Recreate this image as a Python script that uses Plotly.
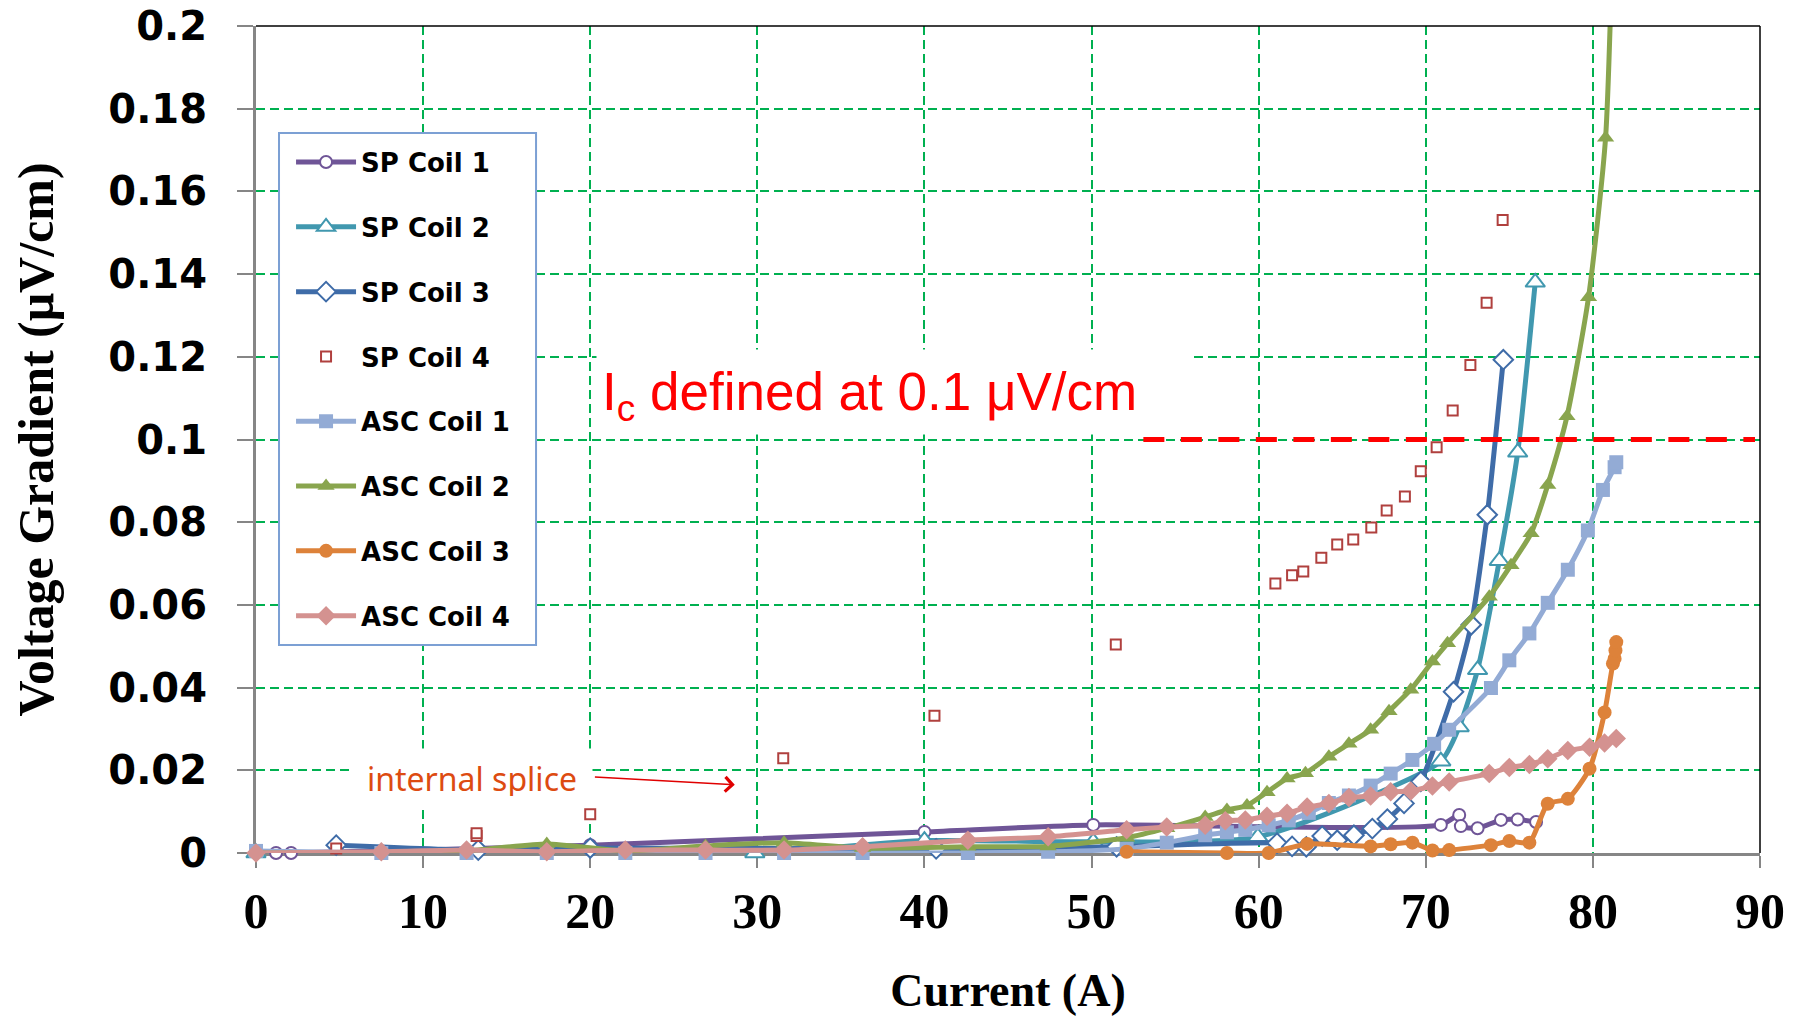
import plotly.graph_objects as go

# ---------------- data ----------------
sp1_x = [1.2, 2.1, 20.0, 40.0, 50.1, 70.9, 72.0, 72.1, 73.1, 74.5, 75.5, 76.6]
sp1_y = [0.0, 0.0, 0.0019, 0.0051, 0.0068, 0.0068, 0.0092, 0.0065, 0.0060, 0.0080, 0.0081, 0.0075]

sp2_x = [0.0, 29.85, 40.0, 50.1, 59.95, 70.9, 72.0, 73.1, 74.4, 75.5, 76.55]
sp2_y = [0.0, 0.0, 0.003, 0.0027, 0.0039, 0.0222, 0.0305, 0.0443, 0.0707, 0.0969, 0.138]

sp3_x = [4.8, 13.3, 20.0, 40.7, 51.5, 61.1, 62.0, 62.85, 63.8, 64.7, 65.7, 66.8, 67.7,
         68.7, 69.7, 71.66, 72.72, 73.68, 74.64]
sp3_y = [0.0019, 0.0007, 0.0012, 0.001, 0.0015, 0.0024, 0.0016, 0.0015, 0.0041, 0.0031,
         0.0043, 0.0059, 0.0082, 0.012, 0.0173, 0.039, 0.0552, 0.0818, 0.1193]

sp4_x = [4.8, 13.2, 13.2, 20.0, 31.55, 40.6, 51.45, 61.0, 62.0, 62.67, 63.75, 64.7, 65.66,
         66.74, 67.66, 68.75, 69.7, 70.65, 71.61, 72.67, 73.64, 74.6]
sp4_y = [0.0011, 0.0041, 0.0048, 0.0094, 0.0229, 0.0332, 0.0504, 0.0652, 0.0672, 0.0681,
         0.0714, 0.0746, 0.0758, 0.0787, 0.0828, 0.0862, 0.0923, 0.0981, 0.107, 0.118,
         0.1331, 0.1531]

asc1_x = [0, 7.5, 12.6, 17.4, 22.1, 26.9, 31.6, 36.3, 42.6, 47.4, 52.1, 54.5, 56.8, 58.1,
          59.2, 60.6, 61.8, 63.0, 64.2, 65.4, 66.7, 67.9, 69.2, 70.5, 71.4, 73.9, 75.0,
          76.2, 77.3, 78.5, 79.7, 80.6, 81.3, 81.4]
asc1_y = [0.0005, 0, 0, 0, 0, 0, 0, 0, 0, 0.0003, 0.001, 0.0025, 0.0043, 0.005, 0.0056,
          0.0067, 0.0079, 0.0097, 0.0121, 0.0139, 0.0163, 0.0192, 0.0225, 0.0264, 0.0298,
          0.0399, 0.0466, 0.0531, 0.0605, 0.0685, 0.078, 0.0878, 0.0933, 0.0945]

asc2_x = [0, 7.5, 12.6, 17.4, 22.1, 26.9, 31.6, 36.3, 42.6, 47.4, 52.1, 54.5, 56.8, 58.1,
          59.3, 60.5, 61.7, 62.8, 64.2, 65.4, 66.7, 67.8, 69.1, 70.4, 71.3, 73.8, 75.1,
          76.3, 77.3, 78.45, 79.74, 80.76, 81.3]
asc2_y = [0, 0, 0.0005, 0.0022, 0.0005, 0.0017, 0.0025, 0.0012, 0.0015, 0.0016, 0.0037,
          0.006, 0.0087, 0.0104, 0.0115, 0.0147, 0.018, 0.0193, 0.0233, 0.0264, 0.0298,
          0.0343, 0.0395, 0.0463, 0.0507, 0.062, 0.0696, 0.0773, 0.089, 0.1056, 0.1344,
          0.173, 0.24]

asc3_x = [52.1, 58.1, 60.6, 62.9, 66.7, 67.9, 69.2, 70.4, 71.4, 73.9, 75.0, 76.2, 77.3,
          78.5, 79.8, 80.7, 81.2, 81.3, 81.35, 81.4]
asc3_y = [0.0003, 0, 0, 0.0022, 0.0016, 0.0021, 0.0025, 0.0006, 0.0007, 0.0019, 0.0029,
          0.0025, 0.0119, 0.0131, 0.0204, 0.034, 0.0458, 0.047, 0.049, 0.051]

asc4_x = [0, 7.5, 12.6, 17.4, 22.1, 26.9, 31.6, 36.3, 42.6, 47.4, 52.1, 54.5, 56.8, 58.0,
          59.2, 60.5, 61.7, 62.9, 64.2, 65.4, 66.7, 67.9, 69.1, 70.4, 71.4, 73.8, 75.0,
          76.2, 77.3, 78.5, 79.8, 80.7, 81.4]
asc4_y = [0, 0.0003, 0.0007, 0.0003, 0.0007, 0.0007, 0.0007, 0.0015, 0.0031, 0.0039,
          0.0056, 0.0063, 0.0067, 0.0078, 0.008, 0.0089, 0.0096, 0.0111, 0.012, 0.0134,
          0.0138, 0.0148, 0.015, 0.0162, 0.0172, 0.0192, 0.0207, 0.0214, 0.0228, 0.0248,
          0.0256, 0.0266, 0.0277]

series_names = ["SP Coil 1", "SP Coil 2", "SP Coil 3", "SP Coil 4",
                "ASC Coil 1", "ASC Coil 2", "ASC Coil 3", "ASC Coil 4"]

x_ticks = [0, 10, 20, 30, 40, 50, 60, 70, 80, 90]
y_ticks = [0, 0.02, 0.04, 0.06, 0.08, 0.1, 0.12, 0.14, 0.16, 0.18, 0.2]
y_tick_labels = ["0", "0.02", "0.04", "0.06", "0.08", "0.1", "0.12", "0.14", "0.16", "0.18", "0.2"]

ic_level = 0.1
ic_line_x = [53.1, 89.7]

# ---------------- styles ----------------
series = [
    (sp1_x, sp1_y, dict(color="#6F5597", symbol="circle", size=12, open=True, mode="lines+markers")),
    (sp2_x, sp2_y, dict(color="#4198AF", symbol="triangle-up", size=17, open=True, mode="lines+markers")),
    (sp3_x, sp3_y, dict(color="#3F6CA8", symbol="diamond", size=15, open=True, mode="lines+markers")),
    (sp4_x, sp4_y, dict(color="#B0403E", symbol="square", size=10, open=True, mode="markers")),
    (asc1_x, asc1_y, dict(color="#93ABD5", symbol="square", size=14, open=False, mode="lines+markers")),
    (asc2_x, asc2_y, dict(color="#89A54E", symbol="triangle-up", size=15, open=False, mode="lines+markers")),
    (asc3_x, asc3_y, dict(color="#DD823A", symbol="circle", size=14, open=False, mode="lines+markers")),
    (asc4_x, asc4_y, dict(color="#D49290", symbol="diamond", size=15, open=False, mode="lines+markers")),
]

fig = go.Figure()
for name, (xs, ys, st) in zip(series_names, series):
    if st["open"]:
        marker = dict(symbol=st["symbol"], size=st["size"], color="white",
                      line=dict(color=st["color"], width=2))
    else:
        marker = dict(symbol=st["symbol"], size=st["size"], color=st["color"],
                      line=dict(color=st["color"], width=0))
    fig.add_trace(go.Scatter(
        x=xs, y=ys, name=name, mode=st["mode"],
        line=dict(color=st["color"], width=5, shape="spline", smoothing=0.6),
        marker=marker, legendgroup=name,
        cliponaxis=(name == "ASC Coil 2"),
    ))

# Ic threshold line
fig.add_trace(go.Scatter(
    x=ic_line_x, y=[ic_level, ic_level], mode="lines", showlegend=False,
    line=dict(color="#FF0000", width=5, dash="21px,16.5px"), hoverinfo="skip",
))

serif = "Liberation Serif, Times New Roman, serif"
sans_bold = "DejaVu Sans, Verdana, sans-serif"

fig.update_layout(
    width=1807, height=1024,
    margin=dict(l=248, r=55, t=18, b=179),
    paper_bgcolor="white", plot_bgcolor="white",
    showlegend=True,
    legend=dict(
        x=0.0233, y=0.8638, xanchor="left", yanchor="top",
        bgcolor="rgba(0,0,0,0)", borderwidth=0,
        font=dict(family=sans_bold, size=26, color="black", weight="bold"),
        tracegroupgap=28, itemwidth=60,
    ),
    xaxis=dict(
        range=[0, 90], tickvals=x_ticks, ticktext=[str(v) for v in x_ticks],
        showline=True, linecolor="#868686", linewidth=3,
        ticks="outside", ticklen=12, tickwidth=2, tickcolor="#868686",
        showgrid=True, gridcolor="#00B050", gridwidth=2, griddash="9px,5px",
        zeroline=False, layer="below traces",
        tickfont=dict(family=serif, size=50, color="black", weight="bold"),
        ticklabelstandoff=0, ticklabeloverflow="allow",
        title=dict(text="Current (A)", standoff=36,
                   font=dict(family=serif, size=46, color="black", weight="bold")),
        automargin=False,
    ),
    yaxis=dict(
        range=[0, 0.2], tickvals=y_ticks, ticktext=y_tick_labels,
        showline=True, linecolor="#868686", linewidth=3,
        ticks="outside", ticklen=16, tickwidth=2, tickcolor="#868686",
        showgrid=True, gridcolor="#00B050", gridwidth=2, griddash="9px,5px",
        zeroline=False, layer="below traces",
        tickfont=dict(family=sans_bold, size=40, color="black", weight="bold"),
        ticklabelstandoff=22, ticklabeloverflow="allow",
        title=dict(text="Voltage Gradient (\u03bcV/cm)", standoff=52,
                   font=dict(family=serif, size=50, color="black", weight="bold")),
        automargin=False,
    ),
    shapes=[
        # legend box
        dict(type="rect", xref="paper", yref="paper", x0=0.0153, x1=0.1862, y0=0.2515, y1=0.8706,
             fillcolor="white", line=dict(color="#7CA0D4", width=2), layer="above"),
        dict(type="line", xref="paper", yref="paper", x0=0, x1=1, y0=1, y1=1,
             line=dict(color="black", width=1.5), layer="above"),
        dict(type="line", xref="paper", yref="paper", x0=1, x1=1, y0=0, y1=1,
             line=dict(color="black", width=1.5), layer="above"),
    ],
    annotations=[
        dict(x=38.2, y=0.1116, xref="x", yref="y",
             text="I<sub>c</sub> defined at 0.1 \u03bcV/cm", showarrow=False,
             font=dict(family="Liberation Sans, Arial, sans-serif", size=53, color="#FF0000"),
             bgcolor="white", width=585, height=74, borderpad=5, align="left",
             valign="bottom"),
        dict(x=12.95, y=0.0181, xref="x", yref="y", text="internal splice", showarrow=False,
             font=dict(family="Noto Sans, sans-serif", size=32, color="#DD4B11"),
             bgcolor="white", width=218, height=36, borderpad=11),
        dict(x=28.65, y=0.0165, ax=20.19, ay=0.0184, xref="x", yref="y",
             axref="x", ayref="y", text="", showarrow=True, arrowhead=4,
             arrowsize=1.9, arrowwidth=1.5, arrowcolor="#E00000"),
    ],
)

fig.write_html("out.html")
